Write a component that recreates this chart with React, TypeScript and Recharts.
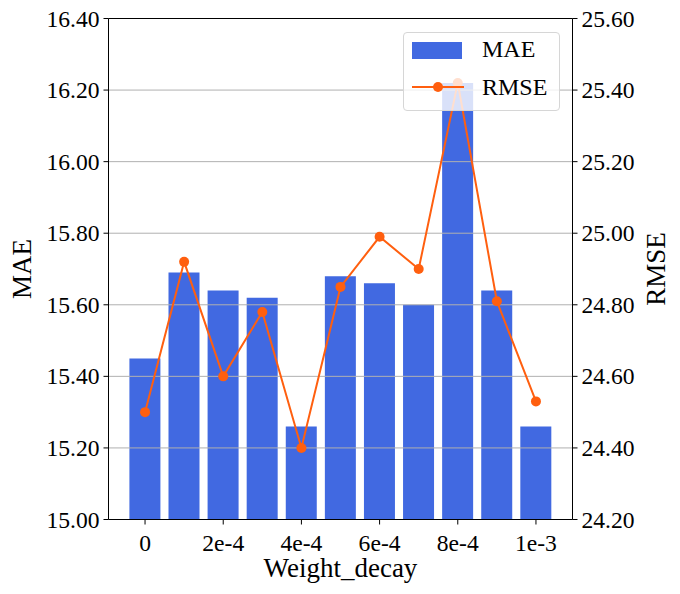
import React from 'react';
import {
  ComposedChart,
  Bar,
  Line,
  XAxis,
  YAxis,
  ReferenceLine,
} from 'recharts';

const categories = ['0', '1e-4', '2e-4', '3e-4', '4e-4', '5e-4', '6e-4', '7e-4', '8e-4', '9e-4', '1e-3'];
const maeValues = [15.45, 15.69, 15.64, 15.62, 15.26, 15.68, 15.66, 15.6, 16.22, 15.64, 15.26];
const rmseValues = [24.5, 24.92, 24.6, 24.78, 24.4, 24.85, 24.99, 24.9, 25.42, 24.81, 24.53];
const maeTicks = [15.0, 15.2, 15.4, 15.6, 15.8, 16.0, 16.2, 16.4];
const rmseTicks = [24.2, 24.4, 24.6, 24.8, 25.0, 25.2, 25.4, 25.6];
const gridValues = [15.2, 15.4, 15.6, 15.8, 16.0, 16.2];

const data = categories.map((c, i) => ({ x: c, MAE: maeValues[i], RMSE: rmseValues[i] }));

const FONT = 'Liberation Serif, DejaVu Serif, serif';
const TICK_SIZE = 23.6;
const BAR = '#4169e1';
const LINE = '#ff5f0f';

const XTick = ({ x, y, payload }: any) => (
  <text x={x} y={y + 24} textAnchor="middle" style={{ fontFamily: FONT, fontSize: TICK_SIZE }} fill="#000">
    {payload.value}
  </text>
);

const LeftTick = ({ x, y, payload }: any) => (
  <text x={x - 2} y={y + 8} textAnchor="end" style={{ fontFamily: FONT, fontSize: TICK_SIZE }} fill="#000">
    {Number(payload.value).toFixed(2)}
  </text>
);

const RightTick = ({ x, y, payload }: any) => (
  <text x={x + 2} y={y + 8} textAnchor="start" style={{ fontFamily: FONT, fontSize: TICK_SIZE }} fill="#000">
    {Number(payload.value).toFixed(2)}
  </text>
);

const Legend = () => (
  <div
    style={{
      position: 'absolute',
      left: 403,
      top: 32,
      width: 157,
      height: 79,
      background: 'rgba(255,255,255,0.8)',
      border: '1px solid #d6d6d6',
      borderRadius: 4,
      fontFamily: FONT,
      fontSize: 24,
      color: '#000',
      boxSizing: 'border-box',
    }}
  >
    <div style={{ position: 'absolute', left: 8, top: 9, width: 50, height: 17, background: BAR }} />
    <div style={{ position: 'absolute', left: 78, top: 2, lineHeight: '28px' }}>MAE</div>
    <svg style={{ position: 'absolute', left: 8, top: 44 }} width={54} height={20}>
      <line x1={0} y1={10} x2={52} y2={10} stroke={LINE} strokeWidth={2} />
      <circle cx={26} cy={10} r={5} fill={LINE} />
    </svg>
    <div style={{ position: 'absolute', left: 78, top: 40, lineHeight: '28px' }}>RMSE</div>
  </div>
);

export default function App() {
  return (
    <div style={{ position: 'absolute', left: 0, top: 0, width: 680, height: 594, background: '#fff', fontFamily: FONT }}>
      <ComposedChart
        width={680}
        height={594}
        data={data}
        margin={{ top: 18.5, right: 0, bottom: 0, left: 0 }}
        barCategoryGap="10%"
        style={{ fontFamily: FONT }}
      >
        <XAxis
          dataKey="x"
          type="category"
          interval={1}
          padding={{ left: 17, right: 17 }}
          height={74.5}
          stroke="#000"
          axisLine={{ stroke: '#000', strokeWidth: 1 }}
          tickLine={{ stroke: '#000', strokeWidth: 1 }}
          tickSize={5}
          tick={<XTick />}
          label={{
            content: ({ viewBox }: any) => (
              <text
                x={viewBox.x + viewBox.width / 2}
                y={577}
                textAnchor="middle"
                style={{ fontFamily: FONT, fontSize: 27 }}
                fill="#000"
              >
                Weight_decay
              </text>
            ),
          }}
        />
        <YAxis
          yAxisId="left"
          orientation="left"
          width={108.5}
          domain={[15.0, 16.4]}
          ticks={maeTicks}
          allowDataOverflow
          stroke="#000"
          axisLine={{ stroke: '#000', strokeWidth: 1 }}
          tickLine={{ stroke: '#000', strokeWidth: 1 }}
          tickSize={5}
          tick={<LeftTick />}
          label={{
            content: ({ viewBox }: any) => (
              <text
                x={31}
                y={viewBox.y + viewBox.height / 2}
                transform={`rotate(-90, 31, ${viewBox.y + viewBox.height / 2})`}
                textAnchor="middle"
                style={{ fontFamily: FONT, fontSize: 27 }}
                fill="#000"
              >
                MAE
              </text>
            ),
          }}
        />
        <YAxis
          yAxisId="right"
          orientation="right"
          width={107.5}
          domain={[24.2, 25.6]}
          ticks={rmseTicks}
          allowDataOverflow
          stroke="#000"
          axisLine={{ stroke: '#000', strokeWidth: 1 }}
          tickLine={{ stroke: '#000', strokeWidth: 1 }}
          tickSize={5}
          tick={<RightTick />}
          label={{
            content: ({ viewBox }: any) => (
              <text
                x={665}
                y={viewBox.y + viewBox.height / 2}
                transform={`rotate(-90, 665, ${viewBox.y + viewBox.height / 2})`}
                textAnchor="middle"
                style={{ fontFamily: FONT, fontSize: 27 }}
                fill="#000"
              >
                RMSE
              </text>
            ),
          }}
        />
        <Bar yAxisId="left" dataKey="MAE" fill={BAR} isAnimationActive={false} />
        {gridValues.map((g) => (
          <ReferenceLine key={g} yAxisId="left" y={g} stroke="#b0b0b0" strokeWidth={1} />
        ))}
        <ReferenceLine yAxisId="left" y={16.4} stroke="#000" strokeWidth={1} />
        <Line
          yAxisId="right"
          dataKey="RMSE"
          stroke={LINE}
          strokeWidth={2}
          dot={{ r: 5, fill: LINE, stroke: LINE, strokeWidth: 0 }}
          activeDot={false}
          isAnimationActive={false}
        />
      </ComposedChart>
      <Legend />
    </div>
  );
}
